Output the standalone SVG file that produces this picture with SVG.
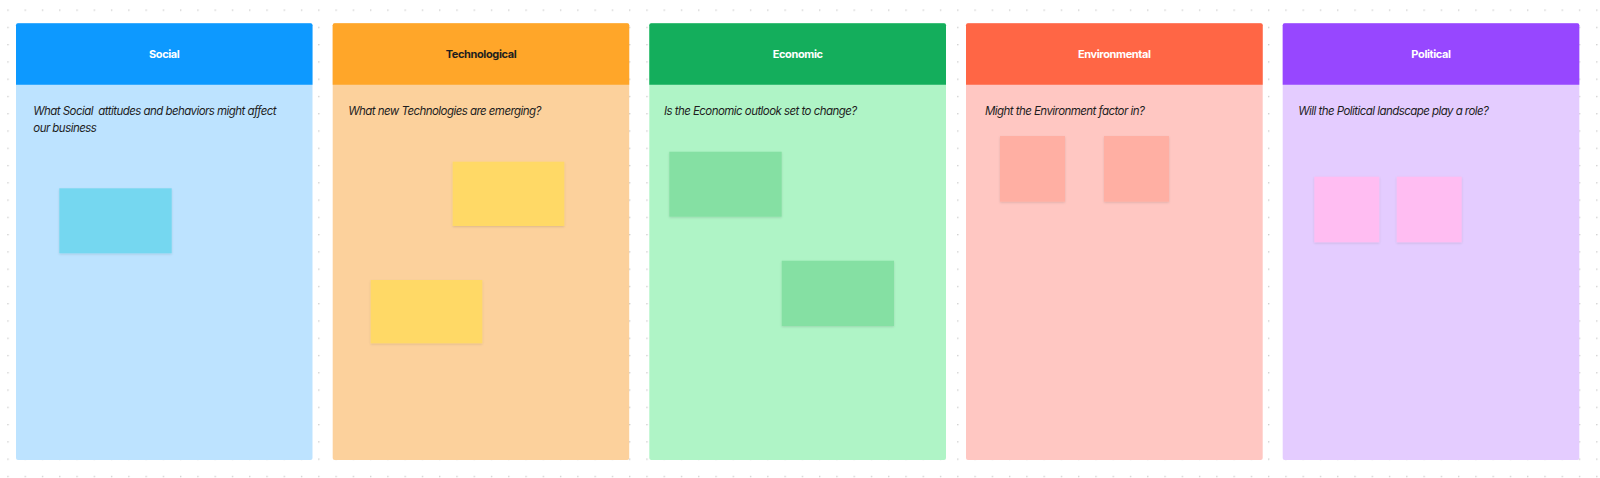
<svg xmlns="http://www.w3.org/2000/svg" width="1600" height="478" viewBox="0 0 1600 478">
  <defs>
    <pattern id="dots" x="7.3" y="9.5" width="17.27" height="17.27" patternUnits="userSpaceOnUse">
      <circle cx="0.7" cy="0.7" r="0.75" fill="#c8c8c8"/>
    </pattern>
    <filter id="shadow" x="-10%" y="-10%" width="120%" height="130%">
      <feDropShadow dx="0" dy="1" stdDeviation="1" flood-color="#000" flood-opacity="0.12"/>
    </filter>
    <style>
      .title { font-family: Inter, "Liberation Sans", sans-serif; font-size: 11px; font-weight: 700; text-anchor: middle; letter-spacing: -0.38px; }
      .q { font-family: Inter, "Liberation Sans", sans-serif; font-size: 11.5px; font-style: italic; fill: #1e1e1e; white-space: pre; letter-spacing: -0.55px; }
      .sticky { filter: url(#shadow); }
    </style>
  </defs>
  <rect width="1600" height="478" fill="#ffffff"/>
  <rect width="1600" height="478" fill="url(#dots)"/>

  <g id="social">
    <rect x="16" y="23.3" width="296.5" height="436.7" rx="2" fill="#BDE3FF"/>
    <path d="M16 84.7 V25.3 a2 2 0 0 1 2 -2 H310.5 a2 2 0 0 1 2 2 V84.7 Z" fill="#0D99FF"/>
    <text class="title" x="164.2" y="58" fill="#ffffff">Social</text>
    <text class="q" x="33.3" y="115">What Social  attitudes and behaviors might affect</text>
    <text class="q" x="33.3" y="131.5">our business</text>
    <rect class="sticky" x="59.3" y="188.3" width="112.4" height="65" fill="#75D7F0"/>
  </g>

  <g id="technological">
    <rect x="332.7" y="23.3" width="296.5" height="436.7" rx="2" fill="#FCD19C"/>
    <path d="M332.7 84.7 V25.3 a2 2 0 0 1 2 -2 H627.2 a2 2 0 0 1 2 2 V84.7 Z" fill="#FFA629"/>
    <text class="title" x="481" y="58" fill="#1e1e1e">Technological</text>
    <text class="q" x="348.3" y="115">What new Technologies are emerging?</text>
    <rect class="sticky" x="452.7" y="161.7" width="111.6" height="64.3" fill="#FFD966"/>
    <rect class="sticky" x="370.7" y="280" width="111.6" height="63.3" fill="#FFD966"/>
  </g>

  <g id="economic">
    <rect x="649.3" y="23.3" width="296.7" height="436.7" rx="2" fill="#AFF4C6"/>
    <path d="M649.3 84.7 V25.3 a2 2 0 0 1 2 -2 H944 a2 2 0 0 1 2 2 V84.7 Z" fill="#14AE5C"/>
    <text class="title" x="797.7" y="58" fill="#ffffff">Economic</text>
    <text class="q" x="664" y="115">Is the Economic outlook set to change?</text>
    <rect class="sticky" x="669.3" y="151.7" width="112.4" height="65" fill="#85E0A3"/>
    <rect class="sticky" x="781.7" y="260.7" width="112.3" height="65.3" fill="#85E0A3"/>
  </g>

  <g id="environmental">
    <rect x="966" y="23.3" width="296.7" height="436.7" rx="2" fill="#FFC7C2"/>
    <path d="M966 84.7 V25.3 a2 2 0 0 1 2 -2 H1260.7 a2 2 0 0 1 2 2 V84.7 Z" fill="#FF6645"/>
    <text class="title" x="1114.3" y="58" fill="#ffffff">Environmental</text>
    <text class="q" x="985" y="115">Might the Environment factor in?</text>
    <rect class="sticky" x="1000" y="136" width="65" height="65.7" fill="#FFAFA3"/>
    <rect class="sticky" x="1104" y="136" width="65" height="65.7" fill="#FFAFA3"/>
  </g>

  <g id="political">
    <rect x="1282.7" y="23.3" width="296.6" height="436.7" rx="2" fill="#E4CCFF"/>
    <path d="M1282.7 84.7 V25.3 a2 2 0 0 1 2 -2 H1577.3 a2 2 0 0 1 2 2 V84.7 Z" fill="#9747FF"/>
    <text class="title" x="1431" y="58" fill="#ffffff">Political</text>
    <text class="q" x="1298.3" y="115">Will the Political landscape play a role?</text>
    <rect class="sticky" x="1314.3" y="176.7" width="65" height="65.6" fill="#FFBDF2"/>
    <rect class="sticky" x="1396.7" y="176.7" width="65" height="65.6" fill="#FFBDF2"/>
  </g>

  <g id="connectors"/>
</svg>
